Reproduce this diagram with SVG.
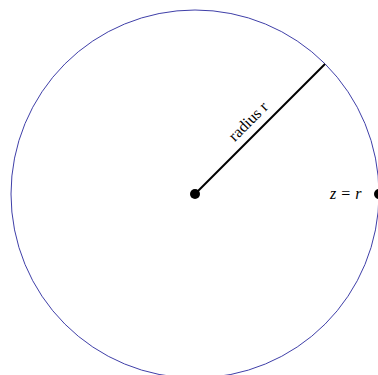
<svg xmlns="http://www.w3.org/2000/svg" width="378" height="375" viewBox="0 0 378 375">
<style>
.t{font-family:"Liberation Serif","DejaVu Serif",serif;font-size:16px;fill:#000}
</style>
<g id="circle"><circle cx="195" cy="194" r="184" fill="none" stroke="#3f3fa8" stroke-width="1"/></g>
<g id="connectors"><line x1="195" y1="194" x2="325" y2="64" stroke="#000" stroke-width="2"/></g>
<g id="center"><circle cx="195" cy="194" r="5" fill="#000"/></g>
<g id="label-radius"><text class="t" font-size="17" text-anchor="middle" transform="translate(252,125) rotate(-45)">radius r</text></g>
<g id="point-z"><circle cx="379" cy="194" r="5" fill="#000"/><text class="t" x="330" y="199" font-style="italic">z<tspan dx="5" font-style="normal">=</tspan><tspan dx="5">r</tspan></text></g>
</svg>
